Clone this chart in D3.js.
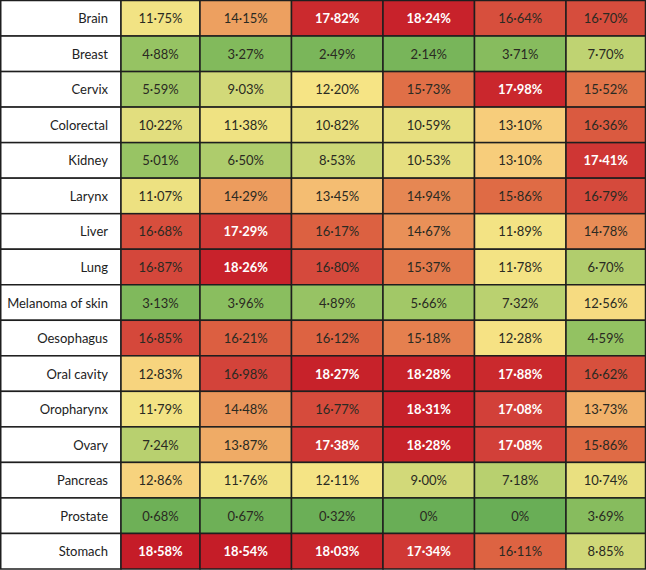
<!DOCTYPE html>
<html>
<head>
<meta charset="utf-8">
<script src="https://cdn.jsdelivr.net/npm/d3@7"></script>
<style>
body{margin:0;background:#fff}
svg{display:block}
.lab{font-family:Lato,"Open Sans",sans-serif;font-size:13px;fill:#222}
.val{font-family:Lato,"Open Sans",sans-serif;font-size:13px}
</style>
</head>
<body>
<div class="chart"></div>
<script>
const cancers=["Brain","Breast","Cervix","Colorectal","Kidney","Larynx","Liver","Lung","Melanoma of skin","Oesophagus","Oral cavity","Oropharynx","Ovary","Pancreas","Prostate","Stomach"]
const col1=[11.75,4.88,5.59,10.22,5.01,11.07,16.68,16.87,3.13,16.85,12.83,11.79,7.24,12.86,0.68,18.58]
const col2=[14.15,3.27,9.03,11.38,6.50,14.29,17.29,18.26,3.96,16.21,16.98,14.48,13.87,11.76,0.67,18.54]
const col3=[17.82,2.49,12.20,10.82,8.53,13.45,16.17,16.80,4.89,16.12,18.27,16.77,17.38,12.11,0.32,18.03]
const col4=[18.24,2.14,15.73,10.59,10.53,14.94,14.67,15.37,5.66,15.18,18.28,18.31,18.28,9.00,0,17.34]
const col5=[16.64,3.71,17.98,13.10,13.10,15.86,11.89,11.78,7.32,12.28,17.88,17.08,17.08,7.18,0,16.11]
const col6=[16.70,7.70,15.52,16.36,17.41,16.79,14.78,6.70,12.56,4.59,16.62,13.73,15.86,10.74,3.69,8.85]
const columns=[col1,col2,col3,col4,col5,col6]

const width=646, height=570
const labelW=121

const svg=d3.select('.chart').append('svg')
	.attr('width',width)
	.attr('height',height)

const yBand=d3.scaleBand()
	.domain(cancers)
	.range([0.5,569])

const xBand=d3.scaleBand()
	.domain(d3.range(columns.length))
	.range([108.5,657.5])

const color=d3.scaleLinear()
	.domain([0,3,5,7,9,11,12.2,13.1,14,15,16,17,17.8,18.6])
	.range(["#69ae56","#7eb85b","#98c464","#b5cf6e","#d2d979","#ece181","#f6e485","#f7cd7b","#eea563","#e68552","#de6743","#d3423a","#cb2a2e","#c51c28"])

// flatten into cells
const cells=[]
columns.forEach((col,j)=>{
	col.forEach((v,i)=>cells.push({row:cancers[i],col:j,value:v}))
})

const fmt=v=>v===0?'0%':d3.format('.2f')(v).replace('.','\u00b7')+'%'

const cx0=d=>Math.max(labelW,xBand(d.col))
const cx1=d=>Math.min(width-0.5,xBand(d.col)+xBand.bandwidth())

// label column
svg.selectAll('.labcell')
	.data(cancers)
	.enter().append('rect')
	.attr('class','labcell')
	.attr('x',0.75)
	.attr('y',d=>yBand(d))
	.attr('width',labelW-0.75)
	.attr('height',yBand.bandwidth())
	.attr('fill','#fff')
	.attr('stroke','#1e1e1e')
	.attr('stroke-width',1.5)

svg.selectAll('.lab')
	.data(cancers)
	.enter().append('text')
	.attr('class','lab')
	.attr('x',108)
	.attr('y',d=>yBand(d)+yBand.bandwidth()/2+5)
	.attr('text-anchor','end')
	.text(d=>d)

svg.selectAll('.cell')
	.data(cells)
	.enter().append('rect')
	.attr('class','cell')
	.attr('x',cx0)
	.attr('y',d=>yBand(d.row))
	.attr('width',d=>cx1(d)-cx0(d))
	.attr('height',yBand.bandwidth())
	.attr('fill',d=>color(d.value))
	.attr('stroke','#1e1e1e')
	.attr('stroke-width',1.5)

svg.selectAll('.val')
	.data(cells)
	.enter().append('text')
	.attr('class','val')
	.attr('x',d=>(cx0(d)+cx1(d))/2)
	.attr('y',d=>yBand(d.row)+yBand.bandwidth()/2+5)
	.attr('text-anchor','middle')
	.attr('fill',d=>d.value>=17?'#fff':'#2a2a22')
	.attr('font-weight',d=>d.value>=17?'bold':'normal')
	.text(d=>fmt(d.value))
</script>
</body>
</html>
